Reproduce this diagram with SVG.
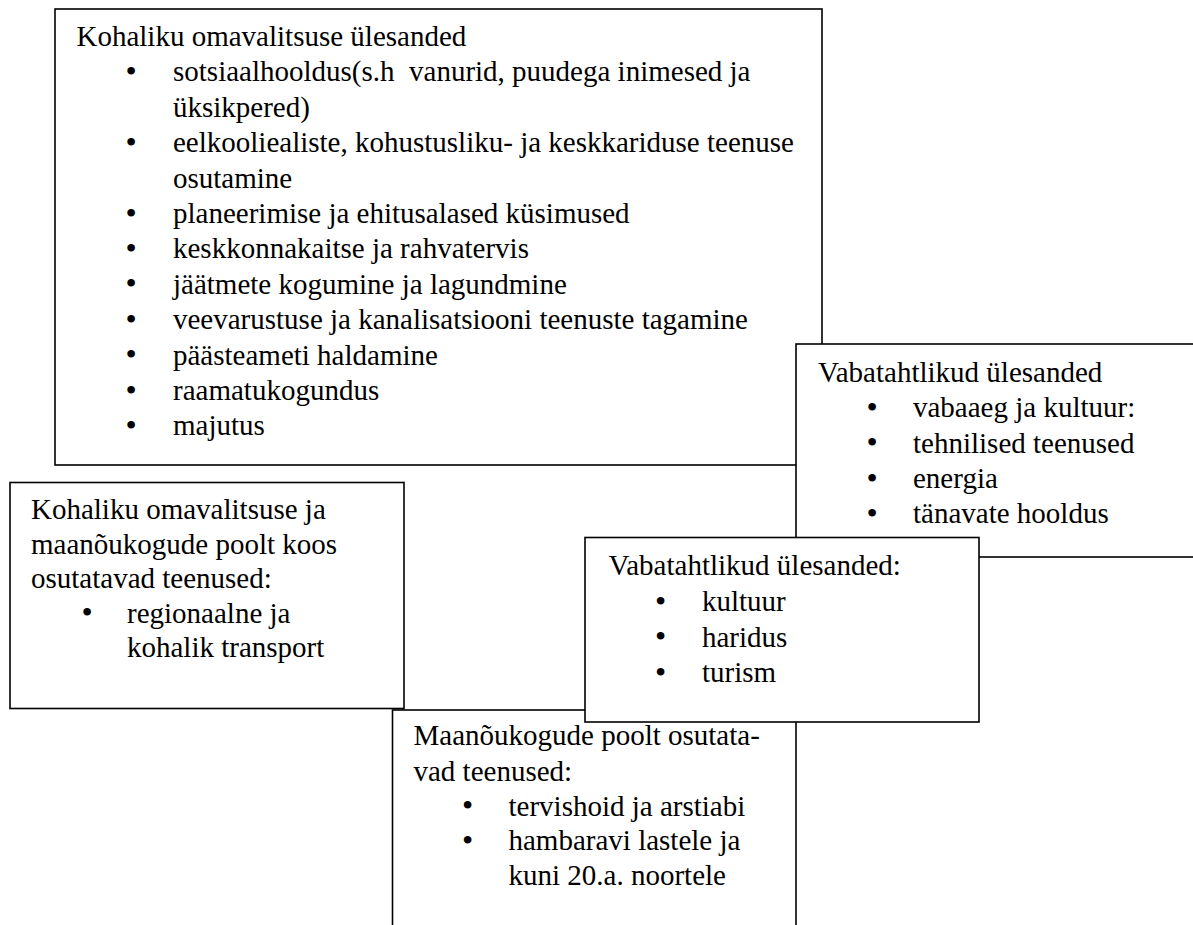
<svg xmlns="http://www.w3.org/2000/svg" width="1193" height="925" viewBox="0 0 1193 925">
<style>
.box{fill:#fff;stroke:#000;stroke-width:1.6}
.b{text-anchor:middle}
</style>
<rect width="1193" height="925" fill="#fff"/>
<g id="kov-ulesanded">
<rect class="box" x="55" y="9" width="767" height="456"/>
<text font-family="Liberation Serif" font-size="29" x="76.5" y="46">Kohaliku omavalitsuse &#252;lesanded</text>
<text class="b" font-family="Liberation Serif" font-size="32" x="131" y="82">&#8226;</text>
<text font-family="Liberation Serif" font-size="29" x="173" y="81.4">sotsiaalhooldus(s.h&#160; vanurid, puudega inimesed ja</text>
<text font-family="Liberation Serif" font-size="29" x="173" y="116.8">&#252;ksikpered)</text>
<text class="b" font-family="Liberation Serif" font-size="32" x="131" y="153">&#8226;</text>
<text font-family="Liberation Serif" font-size="29" x="173" y="152.2">eelkooliealiste, kohustusliku- ja keskkariduse teenuse</text>
<text font-family="Liberation Serif" font-size="29" x="173" y="187.6">osutamine</text>
<text class="b" font-family="Liberation Serif" font-size="32" x="131" y="223.6">&#8226;</text>
<text font-family="Liberation Serif" font-size="29" x="173" y="223">planeerimise ja ehitusalased k&#252;simused</text>
<text class="b" font-family="Liberation Serif" font-size="32" x="131" y="259">&#8226;</text>
<text font-family="Liberation Serif" font-size="29" x="173" y="258.4">keskkonnakaitse ja rahvatervis</text>
<text class="b" font-family="Liberation Serif" font-size="32" x="131" y="294.4">&#8226;</text>
<text font-family="Liberation Serif" font-size="29" x="173" y="293.8">j&#228;&#228;tmete kogumine ja lagundmine</text>
<text class="b" font-family="Liberation Serif" font-size="32" x="131" y="329.8">&#8226;</text>
<text font-family="Liberation Serif" font-size="29" x="173" y="329.2">veevarustuse ja kanalisatsiooni teenuste tagamine</text>
<text class="b" font-family="Liberation Serif" font-size="32" x="131" y="365.2">&#8226;</text>
<text font-family="Liberation Serif" font-size="29" x="173" y="364.6">p&#228;&#228;steameti haldamine</text>
<text class="b" font-family="Liberation Serif" font-size="32" x="131" y="400.6">&#8226;</text>
<text font-family="Liberation Serif" font-size="29" x="173" y="400">raamatukogundus</text>
<text class="b" font-family="Liberation Serif" font-size="32" x="131" y="436">&#8226;</text>
<text font-family="Liberation Serif" font-size="29" x="173" y="435.4">majutus</text>
</g>
<g id="vabatahtlikud-kov">
<rect class="box" x="796" y="344" width="460" height="213"/>
<text font-family="Liberation Serif" font-size="29" x="818" y="381.7">Vabatahtlikud &#252;lesanded</text>
<text class="b" font-family="Liberation Serif" font-size="32" x="872" y="417.6">&#8226;</text>
<text font-family="Liberation Serif" font-size="29" x="913" y="417">vabaaeg ja kultuur:</text>
<text class="b" font-family="Liberation Serif" font-size="32" x="872" y="453.1">&#8226;</text>
<text font-family="Liberation Serif" font-size="29" x="913" y="452.5">tehnilised teenused</text>
<text class="b" font-family="Liberation Serif" font-size="32" x="872" y="488.6">&#8226;</text>
<text font-family="Liberation Serif" font-size="29" x="913" y="488">energia</text>
<text class="b" font-family="Liberation Serif" font-size="32" x="872" y="524">&#8226;</text>
<text font-family="Liberation Serif" font-size="29" x="913" y="523.4">t&#228;navate hooldus</text>
</g>
<g id="koos-osutatavad">
<rect class="box" x="10" y="482.5" width="394" height="226"/>
<text font-family="Liberation Serif" font-size="29" x="31" y="518.5">Kohaliku omavalitsuse ja</text>
<text font-family="Liberation Serif" font-size="29" x="31" y="553.5">maan&#245;ukogude poolt koos</text>
<text font-family="Liberation Serif" font-size="29" x="31" y="588">osutatavad teenused:</text>
<text class="b" font-family="Liberation Serif" font-size="32" x="87" y="623.1">&#8226;</text>
<text font-family="Liberation Serif" font-size="29" x="127" y="622.5">regionaalne ja</text>
<text font-family="Liberation Serif" font-size="29" x="127" y="657">kohalik transport</text>
</g>
<g id="maanoukogud">
<rect class="box" x="392.5" y="710" width="403.5" height="240"/>
<text font-family="Liberation Serif" font-size="29" x="413.5" y="745">Maan&#245;ukogude poolt osutata-</text>
<text font-family="Liberation Serif" font-size="29" x="413.5" y="780.5">vad teenused:</text>
<text class="b" font-family="Liberation Serif" font-size="32" x="467.5" y="816.1">&#8226;</text>
<text font-family="Liberation Serif" font-size="29" x="508.5" y="815.5">tervishoid ja arstiabi</text>
<text class="b" font-family="Liberation Serif" font-size="32" x="467.5" y="850.6">&#8226;</text>
<text font-family="Liberation Serif" font-size="29" x="508.5" y="850">hambaravi lastele ja</text>
<text font-family="Liberation Serif" font-size="29" x="508.5" y="884.5">kuni 20.a. noortele</text>
</g>
<g id="vabatahtlikud-maanoukogud">
<rect class="box" x="585" y="537.5" width="394" height="184.5"/>
<text font-family="Liberation Serif" font-size="29" x="608.5" y="575">Vabatahtlikud &#252;lesanded:</text>
<text class="b" font-family="Liberation Serif" font-size="32" x="660.5" y="611.6">&#8226;</text>
<text font-family="Liberation Serif" font-size="29" x="702" y="611">kultuur</text>
<text class="b" font-family="Liberation Serif" font-size="32" x="660.5" y="647.1">&#8226;</text>
<text font-family="Liberation Serif" font-size="29" x="702" y="646.5">haridus</text>
<text class="b" font-family="Liberation Serif" font-size="32" x="660.5" y="682.6">&#8226;</text>
<text font-family="Liberation Serif" font-size="29" x="702" y="682">turism</text>
</g>
<g id="connectors"></g>
</svg>
